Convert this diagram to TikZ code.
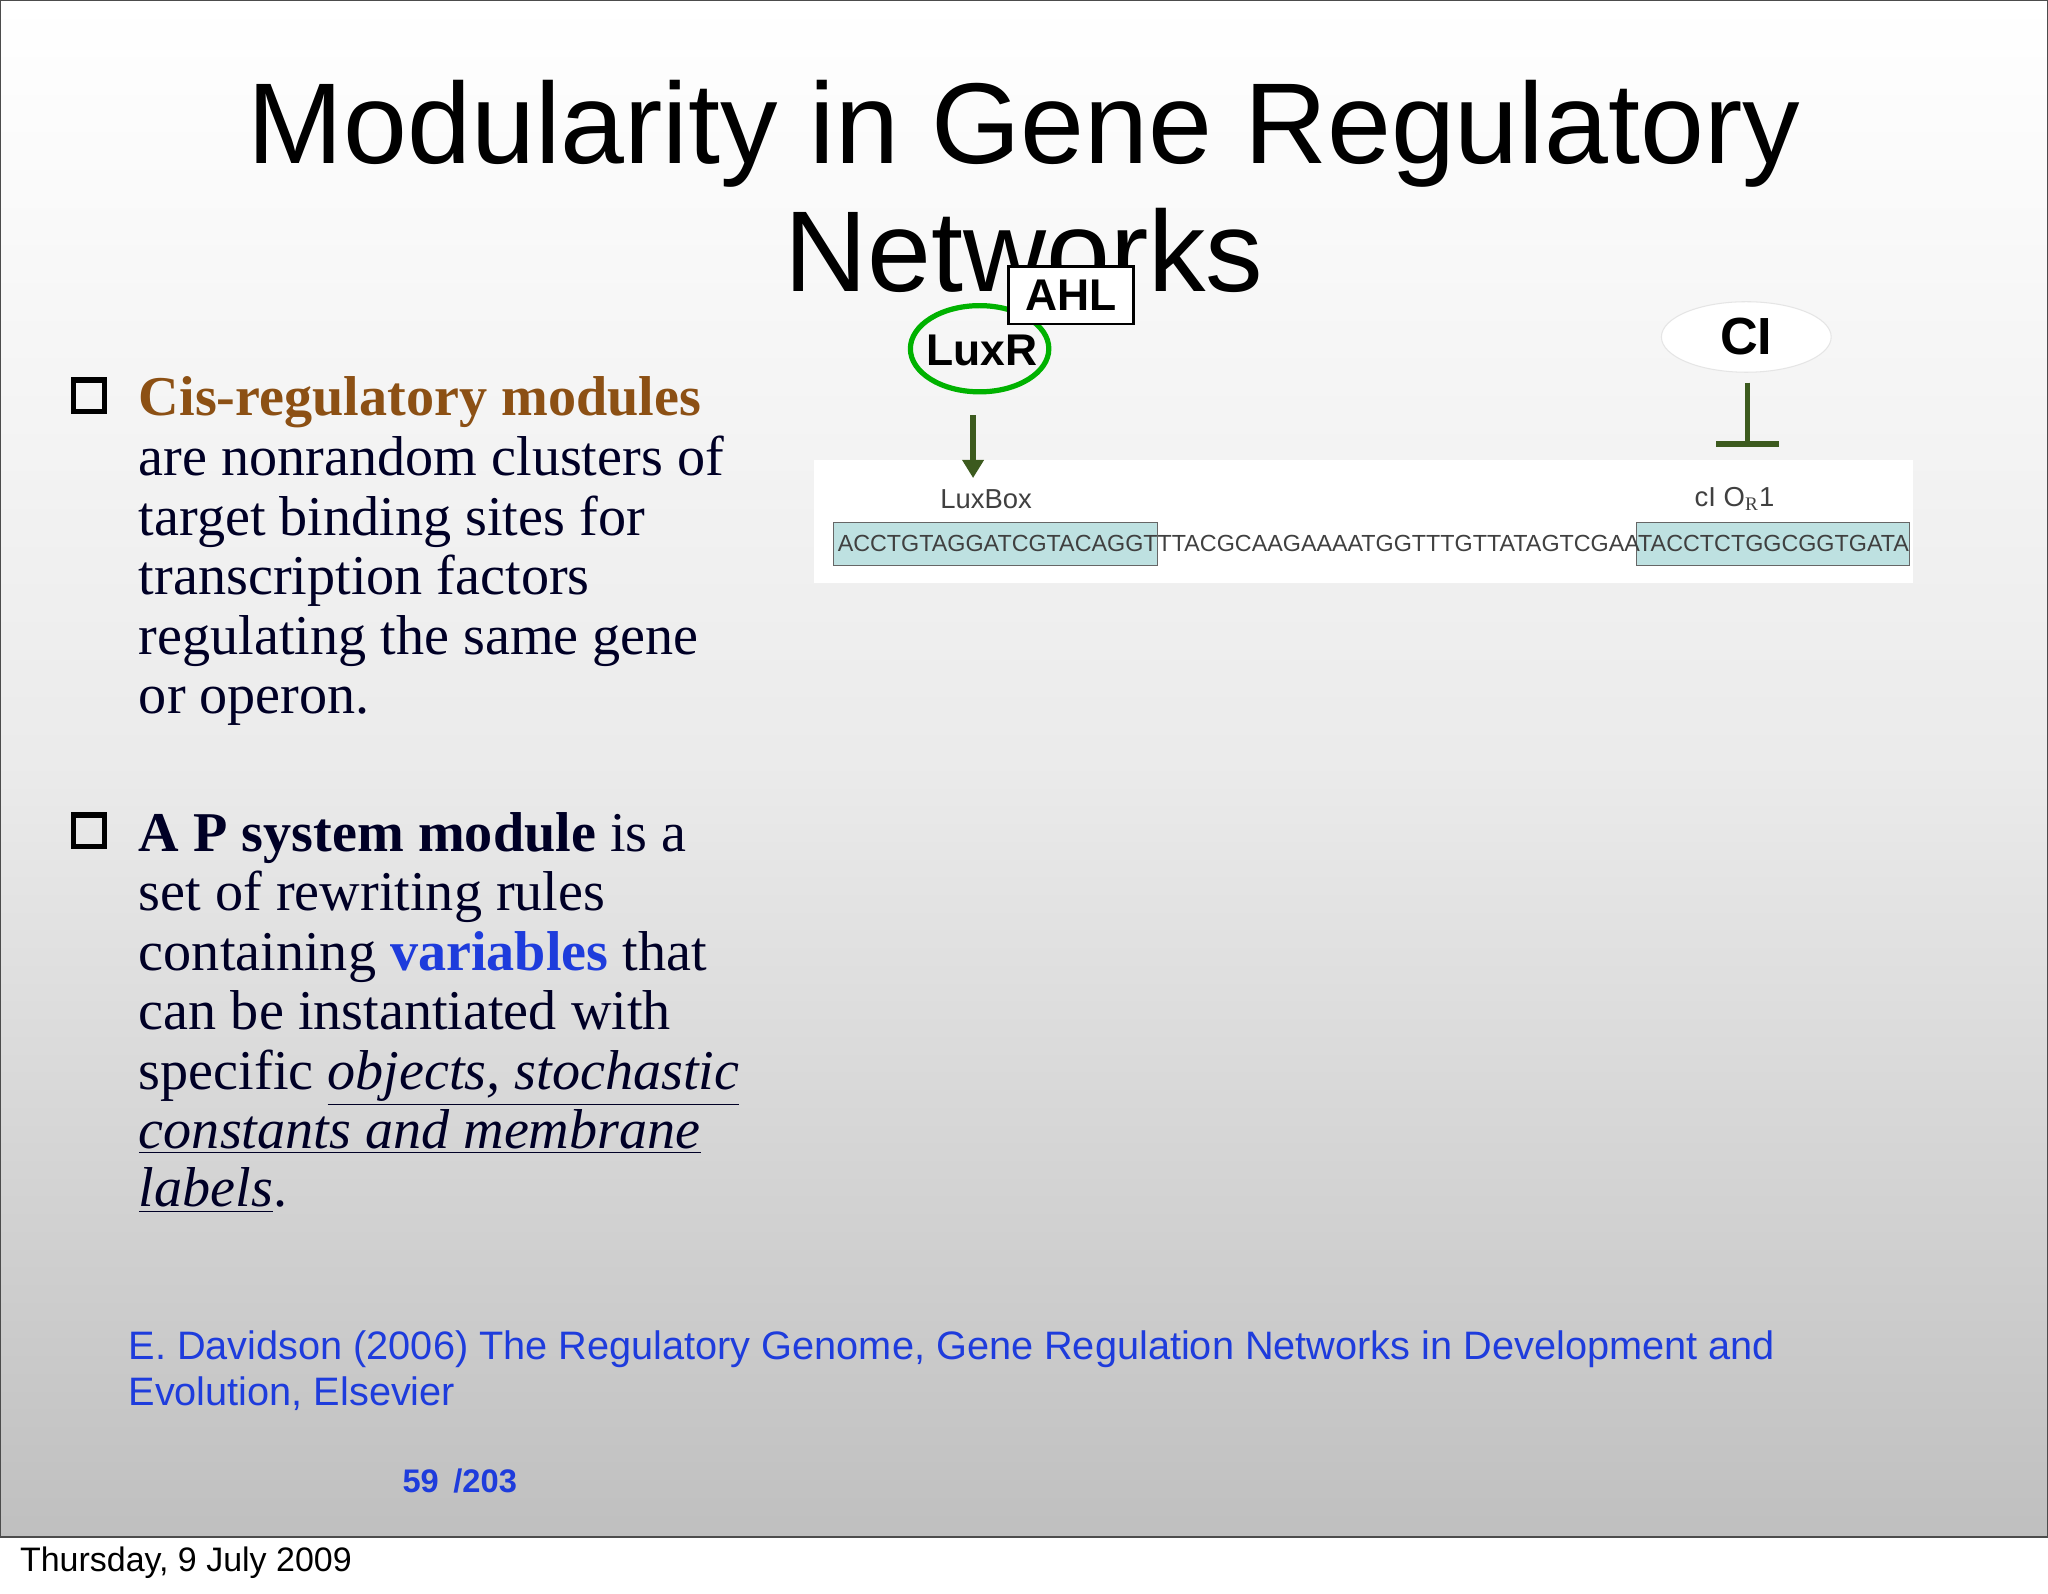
\documentclass[tikz,border=0pt]{standalone}
\usepackage{fontspec}
\setmainfont{Liberation Serif}
\newfontfamily\hv{Liberation Sans}
\usetikzlibrary{arrows.meta,shapes.geometric,calc}
\definecolor{cite}{RGB}{30,60,220}
\definecolor{brownc}{RGB}{140,80,20}
\definecolor{dgreen}{RGB}{60,90,30}
\definecolor{teal}{RGB}{190,225,225}
\tikzset{
 body/.style={anchor=base west,inner sep=0pt,font=\fontsize{21.5}{23}\selectfont,text=black!85!blue},
 cb/.style={draw=black,line width=2pt,minimum size=12pt,inner sep=0pt},
}
\begin{document}
\begin{tikzpicture}[x=0.5pt,y=-0.5pt]
\useasboundingbox (0,0) rectangle (1568,1220);
\fill[white] (0,0) rectangle (1568,1220);
\shade[top color=white,bottom color=black!25,middle color=black!8] (0,0) rectangle (1568,1177);
\draw[black!70,line width=0.8pt] (0,0) rectangle (1568,1177);
\node[anchor=base,font=\hv\fontsize{44}{50}\selectfont] (t1) at (784,125) {Modularity in Gene Regulatory};
\node[anchor=base,font=\hv\fontsize{44}{50}\selectfont] (t2) at (784,223) {Networks};
% LuxR / AHL
\node[draw=green!70!black,line width=2pt,ellipse,minimum width=53pt,minimum height=33pt,inner sep=0pt] (luxr) at (750,267) {};
\node[font=\hv\bfseries\fontsize{17}{18}\selectfont] (luxrt) at (752,268) {LuxR};
\node[draw=black,fill=white,line width=1pt,minimum width=48pt,minimum height=22pt,inner sep=1pt,font=\hv\bfseries\fontsize{17}{18}\selectfont] (ahl) at (820,226) {AHL};
\node[draw=black!10,fill=white,ellipse,minimum width=65pt,minimum height=27pt,inner sep=0pt,font=\hv\bfseries\fontsize{20}{22}\selectfont] (ci) at (1337,258) {CI};
% DNA panel
\fill[white] (623,352) rectangle (1465,446);
\coordinate (a1) at (745,318); \coordinate (a2) at (745,366);
\draw[dgreen,line width=2pt,-{Triangle[length=7pt,width=8pt]}] (a1) -- (a2);
\coordinate (b1) at (1338,293); \coordinate (b2) at (1338,340);
\draw[dgreen,line width=2pt] (b1) -- (b2);
\draw[dgreen,line width=2.5pt] ($(b2)+(-24,0)$) -- ($(b2)+(24,0)$);
\fill[teal] (638,400) rectangle (886,433);
\draw[black!60] (638,400) rectangle (886,433);
\fill[teal] (1253,400) rectangle (1462,433);
\draw[black!60] (1253,400) rectangle (1462,433);
\node[font=\hv\fontsize{10.5}{11}\selectfont,text=black!75] (lb) at (755,382) {LuxBox};
\node[font=\hv\fontsize{10.5}{11}\selectfont,text=black!75] (or) at (1328,382) {cI O$_{\mathrm R}$1};
\node[anchor=west,inner sep=0pt,text=black!75] (seq) at (641,416) {\resizebox{410pt}{!}{\hv ACCTGTAGGATCGTACAGGTTTACGCAAGAAAATGGTTTGTTATAGTCGAATACCTCTGGCGGTGATA}};
% bullets
\node[cb] (c1) at (68,303) {};
\node[cb] (c2) at (68,636) {};
\node[body,text=brownc,font=\bfseries\fontsize{21.5}{23}\selectfont] at (106,318) {Cis-regulatory modules};
\node[body] at (106,364) {are nonrandom clusters of};
\node[body] at (106,410) {target binding sites for};
\node[body] at (106,455) {transcription factors};
\node[body] at (106,501) {regulating the same gene};
\node[body] at (106,546) {or operon.};
\node[body] at (106,652) {\textbf{A P system module} is a};
\node[body] at (106,697) {set of rewriting rules};
\node[body] at (106,743) {containing \textcolor{cite}{\textbf{variables}} that};
\node[body] at (106,788) {can be instantiated with};
\node[body] at (106,834) {specific \underline{\textit{objects, stochastic}}};
\node[body] at (106,879) {\underline{\textit{constants and membrane}}};
\node[body] at (106,924) {\underline{\textit{labels}}.};
% citation
\node[anchor=base west,inner sep=0pt,text=cite,font=\hv\fontsize{15.2}{17}\selectfont] (cit1) at (98,1041) {E. Davidson (2006) The Regulatory Genome, Gene Regulation Networks in Development and};
\node[anchor=base west,inner sep=0pt,text=cite,font=\hv\fontsize{15.2}{17}\selectfont] (cit2) at (98,1076) {Evolution, Elsevier};
\node[text=cite,font=\hv\bfseries\fontsize{12.5}{14}\selectfont] (pg) at (352,1134) {59 \,/203};
\node[anchor=base west,inner sep=0pt,font=\hv\fontsize{13}{14}\selectfont] (date) at (15,1203) {Thursday, 9 July 2009};
\end{tikzpicture}
\end{document}
